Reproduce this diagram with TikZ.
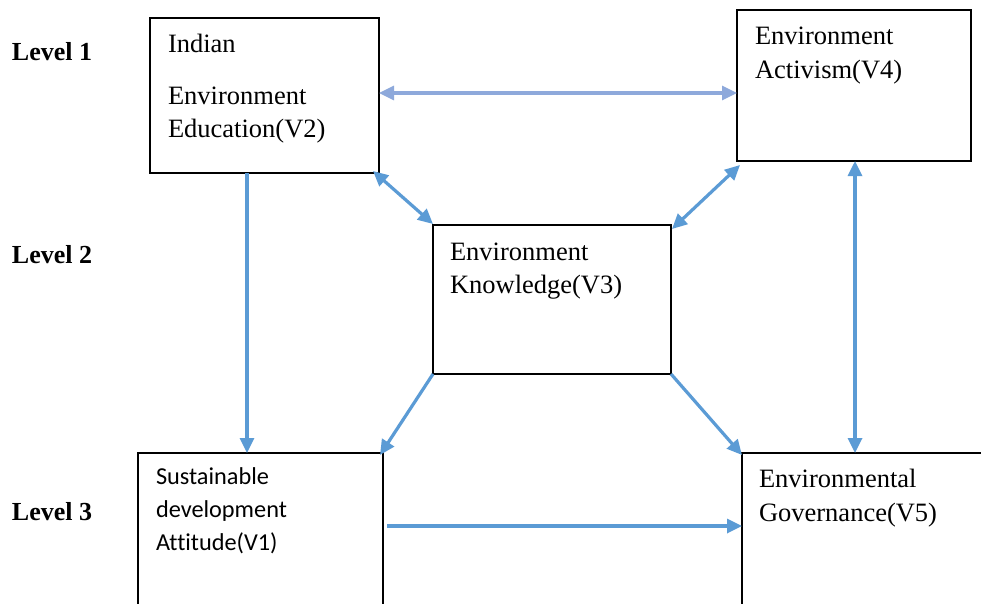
\documentclass[tikz,border=0pt]{standalone}
\usepackage{fontspec}
\setmainfont{Liberation Serif}
\newfontfamily\carl[Ligatures=CommonOff]{Carlito}
\usetikzlibrary{arrows.meta,calc}
\definecolor{arrblue}{HTML}{5B9BD5}
\definecolor{arrlight}{HTML}{8EA9DB}
\begin{document}
\begin{tikzpicture}[x=1pt,y=-1pt,
  box/.style={draw=black,line width=1.6pt,rectangle,anchor=north west,inner sep=0pt,outer sep=0pt},
  txt/.style={anchor=base west,inner sep=0pt,outer sep=0pt,font=\fontsize{26.5}{32}\selectfont},
  sanstxt/.style={anchor=base west,inner sep=0pt,outer sep=0pt,font=\carl\fontsize{24.3}{32}\selectfont},
  lvl/.style={anchor=base west,inner sep=0pt,outer sep=0pt,font=\bfseries\fontsize{26}{30}\selectfont},
  conn/.style={draw=arrblue,line width=3.2pt,-{Triangle[length=15pt,width=14pt]}},
  bconn/.style={draw=arrblue,line width=3.2pt,{Triangle[length=15pt,width=14pt]}-{Triangle[length=15pt,width=14pt]}},
  lconn/.style={draw=arrlight,line width=3.2pt,{Triangle[length=15pt,width=14pt]}-{Triangle[length=15pt,width=14pt]}}
]
\useasboundingbox (0,0) rectangle (981,603);
\clip (0,0) rectangle (981,603);
\fill[white] (0,0) rectangle (981,603);

% boxes
\node[box,minimum width=229pt,minimum height=155pt] (v2) at (150,18) {};
\node[box,minimum width=234pt,minimum height=151pt] (v4) at (737,10) {};
\node[box,minimum width=238pt,minimum height=149pt] (v3) at (433,225) {};
\node[box,minimum width=245pt,minimum height=200pt] (v1) at (138,453) {};
\node[box,minimum width=300pt,minimum height=200pt] (v5) at (742,453) {};

% texts
\node[txt] (t2a) at (168,52) {Indian};
\node[txt] (t2b) at (168,104) {Environment};
\node[txt] (t2c) at (168,137) {Education(V2)};
\node[txt] (t4a) at (755,44) {Environment};
\node[txt] (t4b) at (755,78) {Activism(V4)};
\node[txt] (t3a) at (450,260) {Environment};
\node[txt] (t3b) at (450,293) {Knowledge(V3)};
\node[txt] (t5a) at (759,487) {Environmental};
\node[txt] (t5b) at (759,521) {Governance(V5)};
\node[sanstxt] (t1a) at (156,484) {Sustainable};
\node[sanstxt] (t1b) at (156,517) {development};
\node[sanstxt] (t1c) at (156,550) {Attitude(V1)};

\node[lvl] (l1) at (12,60) {Level 1};
\node[lvl] (l2) at (12,263) {Level 2};
\node[lvl] (l3) at (12,520) {Level 3};

% connectors
\draw[lconn] ($(v2.north east)+(0,75)$) -- ($(v4.north west)+(0,83)$);
\draw[conn] ($(v2.south west)+(97,0)$) -- ($(v1.north west)+(109,0)$);
\draw[bconn] ($(v2.south east)+(-6,-2)$) -- ($(v3.north west)+(0,-1)$);
\draw[bconn] ($(v4.south west)+(3,4)$) -- ($(v3.north east)+(1,4)$);
\draw[bconn] ($(v4.south west)+(118,0)$) -- ($(v5.north west)+(113,0)$);
\draw[conn] (v3.south west) -- ($(v1.north east)+(-3,2)$);
\draw[conn] (v3.south east) -- ($(v5.north west)+(0,2)$);
\draw[conn] ($(v1.north east)+(4,73)$) -- ($(v5.north west)+(0,73)$);
\end{tikzpicture}
\end{document}
